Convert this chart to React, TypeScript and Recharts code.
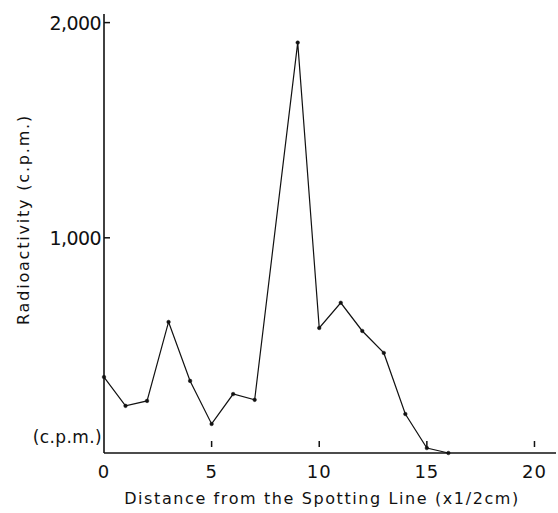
import React from "react";
import { LineChart, Line, XAxis, YAxis } from "recharts";

const distances = [0, 1, 2, 3, 4, 5, 6, 7, 9, 10, 11, 12, 13, 14, 15, 16];
const radioactivity = [353, 219, 242, 609, 335, 135, 274, 247, 1907, 581, 698, 567, 465, 181, 23, 0];
const xTicks = [0, 5, 10, 15, 20];
const yTicks = [0, 1000, 2000];
const yTickLabels: Record<number, string> = { 0: "(c.p.m.)", 1000: "1,000", 2000: "2,000" };

const data = distances.map((d, i) => ({ x: d, y: radioactivity[i] }));

const FONT = "'DejaVu Sans', sans-serif";

const YTick = (props: any) => {
  const { x, y, payload } = props;
  const v = payload.value;
  if (v === 0) {
    return (
      <text x={x + 4} y={y - 16} textAnchor="end" dominantBaseline="central" fontFamily={FONT} fontSize={17} fill="#111" letterSpacing={0.4}>
        {yTickLabels[v]}
      </text>
    );
  }
  return (
    <g>
      <line x1={x + 6} x2={x + 12} y1={y} y2={y} stroke="#111" strokeWidth={1.5} />
      <text x={x + 3} y={y} textAnchor="end" dominantBaseline="central" fontFamily={FONT} fontSize={19} fill="#111" letterSpacing={-0.6}>
        {yTickLabels[v]}
      </text>
    </g>
  );
};

const XTick = (props: any) => {
  const { x, y, payload } = props;
  const v = payload.value;
  return (
    <g>
      {v !== 0 && <line x1={x} x2={x} y1={y - 6} y2={y - 12} stroke="#111" strokeWidth={1.5} />}
      <text x={x} y={y + 18} textAnchor="middle" dominantBaseline="central" fontFamily={FONT} fontSize={18} fill="#111" letterSpacing={1}>
        {v}
      </text>
    </g>
  );
};

const YLabel = (props: any) => {
  const { viewBox } = props;
  const cx = viewBox.x + 23;
  const cy = viewBox.y + viewBox.height / 2 - 14;
  return (
    <text x={cx} y={cy} transform={`rotate(-90, ${cx}, ${cy})`} textAnchor="middle" dominantBaseline="central" fontFamily={FONT} fontSize={16} fill="#111" letterSpacing={1.8}>
      Radioactivity (c.p.m.)
    </text>
  );
};

const XLabel = (props: any) => {
  const { viewBox } = props;
  const cx = viewBox.x + viewBox.width / 2 - 8;
  const cy = viewBox.y + 45;
  return (
    <text x={cx} y={cy} textAnchor="middle" dominantBaseline="central" fontFamily={FONT} fontSize={16} fill="#111" letterSpacing={1.6}>
      Distance from the Spotting Line (x1/2cm)
    </text>
  );
};

export default function App() {
  return (
    <div style={{ position: "absolute", left: 0, top: 0, width: 558, height: 513, background: "#fff" }}>
      <LineChart width={558} height={513} data={data} margin={{ top: 14, right: 2, bottom: 0, left: 0 }}>
        <XAxis
          dataKey="x"
          type="number"
          domain={[0, 21]}
          ticks={xTicks}
          tickLine={false}
          tickSize={0}
          tickMargin={0}
          tick={<XTick />}
          axisLine={{ stroke: "#111", strokeWidth: 1.6 }}
          height={60}
          label={<XLabel />}
        />
        <YAxis
          dataKey="y"
          type="number"
          domain={[0, 2040]}
          ticks={yTicks}
          tickLine={false}
          tickSize={0}
          tickMargin={6}
          tick={<YTick />}
          axisLine={{ stroke: "#111", strokeWidth: 1.6 }}
          width={104}
          label={<YLabel />}
        />
        <Line
          type="linear"
          dataKey="y"
          stroke="#111"
          strokeWidth={1.2}
          dot={{ r: 1.8, fill: "#111", stroke: "#111", strokeWidth: 0.5 }}
          isAnimationActive={false}
        />
      </LineChart>
    </div>
  );
}
